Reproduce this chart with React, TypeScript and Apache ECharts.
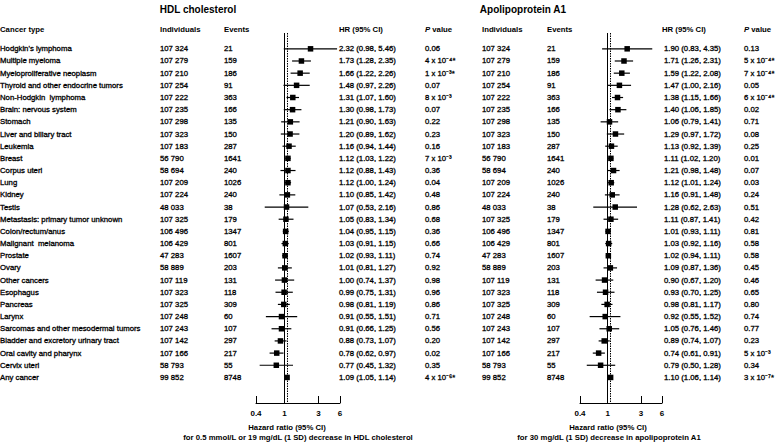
import React, { useEffect, useRef } from "react";
import * as echarts from "echarts";

const cancers = [
  "Hodgkin's lymphoma", "Multiple myeloma", "Myeloproliferative neoplasm", "Thyroid and other endocrine tumors",
  "Non-Hodgkin  lymphoma", "Brain: nervous system", "Stomach", "Liver and biliary tract", "Leukemia", "Breast",
  "Corpus uteri", "Lung", "Kidney", "Testis", "Metastasis: primary tumor unknown", "Colon/rectum/anus",
  "Malignant  melanoma", "Prostate", "Ovary", "Other cancers", "Esophagus", "Pancreas", "Larynx",
  "Sarcomas and other mesodermal tumors", "Bladder and excretory urinary tract", "Oral cavity and pharynx",
  "Cervix uteri", "Any cancer",
];

const hdlIndividuals = [107324, 107279, 107210, 107254, 107222, 107235, 107298, 107323, 107183, 56790, 58694, 107209, 107224, 48033, 107325, 106496, 106429, 47283, 58889, 107119, 107323, 107325, 107248, 107243, 107142, 107166, 58793, 99852];
const hdlEvents = [21, 159, 186, 91, 363, 166, 135, 150, 287, 1641, 240, 1026, 240, 38, 179, 1347, 801, 1607, 203, 131, 118, 309, 60, 107, 297, 217, 55, 8748];
const hdlHR = [2.32, 1.73, 1.66, 1.48, 1.31, 1.30, 1.21, 1.20, 1.16, 1.12, 1.12, 1.12, 1.10, 1.07, 1.05, 1.04, 1.03, 1.02, 1.01, 1.00, 0.99, 0.98, 0.91, 0.91, 0.88, 0.78, 0.77, 1.09];
const hdlLow = [0.98, 1.28, 1.22, 0.97, 1.07, 0.98, 0.90, 0.89, 0.94, 1.03, 0.88, 1.00, 0.85, 0.53, 0.83, 0.95, 0.91, 0.93, 0.81, 0.74, 0.75, 0.81, 0.55, 0.66, 0.73, 0.62, 0.45, 1.05];
const hdlHigh = [5.46, 2.35, 2.26, 2.26, 1.60, 1.73, 1.63, 1.62, 1.44, 1.22, 1.43, 1.24, 1.42, 2.16, 1.34, 1.15, 1.15, 1.11, 1.27, 1.37, 1.31, 1.19, 1.51, 1.25, 1.07, 0.97, 1.32, 1.14];
const hdlP = ["0.06", "4 x 10⁻⁴*", "1 x 10⁻³*", "0.07", "8 x 10⁻³", "0.07", "0.22", "0.23", "0.16", "7 x 10⁻³", "0.36", "0.04", "0.48", "0.86", "0.68", "0.36", "0.66", "0.74", "0.92", "0.98", "0.96", "0.86", "0.71", "0.56", "0.20", "0.02", "0.35", "4 x 10⁻⁶*"];

const apoIndividuals = [107324, 107279, 107210, 107254, 107222, 107235, 107298, 107323, 107183, 56790, 58694, 107209, 107224, 48033, 107325, 106496, 106429, 47283, 58889, 107119, 107323, 107325, 107248, 107243, 107142, 107166, 58793, 99852];
const apoEvents = [21, 159, 186, 91, 363, 166, 135, 150, 287, 1641, 240, 1026, 240, 38, 179, 1347, 801, 1607, 203, 131, 118, 309, 60, 107, 297, 217, 55, 8748];
const apoHR = [1.90, 1.71, 1.59, 1.47, 1.38, 1.40, 1.06, 1.29, 1.13, 1.11, 1.21, 1.12, 1.16, 1.28, 1.11, 1.01, 1.03, 1.02, 1.09, 0.90, 0.93, 0.98, 0.92, 1.05, 0.89, 0.74, 0.79, 1.10];
const apoLow = [0.83, 1.26, 1.22, 1.00, 1.15, 1.06, 0.79, 0.97, 0.92, 1.02, 0.98, 1.01, 0.91, 0.62, 0.87, 0.93, 0.92, 0.94, 0.87, 0.67, 0.70, 0.81, 0.55, 0.76, 0.74, 0.61, 0.50, 1.06];
const apoHigh = [4.35, 2.31, 2.08, 2.16, 1.66, 1.85, 1.41, 1.72, 1.39, 1.20, 1.48, 1.24, 1.48, 2.63, 1.41, 1.11, 1.16, 1.11, 1.36, 1.20, 1.25, 1.17, 1.52, 1.46, 1.07, 0.91, 1.28, 1.14];
const apoP = ["0.13", "5 x 10⁻⁴*", "7 x 10⁻⁴*", "0.05", "6 x 10⁻⁴*", "0.02", "0.71", "0.08", "0.25", "0.01", "0.07", "0.03", "0.24", "0.51", "0.42", "0.81", "0.58", "0.58", "0.45", "0.46", "0.65", "0.80", "0.74", "0.77", "0.23", "5 x 10⁻³", "0.34", "3 x 10⁻⁷*"];

const tickValues = [0.4, 1, 3, 6];
const hdlOverall = 1.09;
const apoOverall = 1.10;

const FONT = '"Liberation Sans", Arial, Helvetica, sans-serif';
const FS = 7.75;

const fmtN = (n: number) => String(n).replace(/\B(?=(\d{3})+(?!\d))/g, " ");
const fmtHR = (h: number, l: number, u: number) => `${h.toFixed(2)} (${l.toFixed(2)}, ${u.toFixed(2)})`;

function txt(text: string, x: number, y: number, opts: any = {}) {
  const bold = opts.fontWeight === "bold";
  return {
    type: "text",
    style: {
      text, x, y,
      fill: "#000",
      fontFamily: FONT,
      fontSize: opts.fontSize || FS,
      fontWeight: opts.fontWeight || "normal",
      fontStyle: opts.fontStyle || "normal",
      align: opts.align || "left",
      verticalAlign: "middle",
      stroke: bold ? undefined : "#000",
      lineWidth: bold ? 0 : 0.3,
    },
  };
}

export default function App() {
  const ref = useRef<HTMLDivElement>(null);
  useEffect(() => {
    const chart = echarts.init(ref.current!, null, { renderer: "svg" });

    const panels = [
      { hr: hdlHR, lo: hdlLow, hi: hdlHigh, p: hdlP, n: hdlIndividuals, ev: hdlEvents, overall: hdlOverall,
        cols: { name: 0, n: 160, ev: 224, hr: 339, p: 425 }, withName: true },
      { hr: apoHR, lo: apoLow, hi: apoHigh, p: apoP, n: apoIndividuals, ev: apoEvents, overall: apoOverall,
        cols: { name: -1, n: 482, ev: 547, hr: 664, p: 744 }, withName: false },
    ];

    const grids = [
      { left: 256, width: 84, top: 33, bottom: 41 },
      { left: 580, width: 82, top: 33, bottom: 41 },
    ];

    const xAxes = grids.map((_, i) => ({
      type: "log", logBase: 10, gridIndex: i, min: 0.4, max: 6, position: "bottom",
      axisLine: { show: true, onZero: false, lineStyle: { color: "#000", width: 1 } },
      axisTick: { show: true, inside: true, length: 7, customValues: tickValues, lineStyle: { color: "#000", width: 1 } },
      minorTick: { show: false },
      axisLabel: { show: true, customValues: tickValues, color: "#000", fontSize: 8, fontWeight: "bold", fontFamily: FONT, margin: 6,
        formatter: (v: number) => String(Math.round(v * 10) / 10) },
      splitLine: { show: false },
    }));
    const yAxes = grids.map((_, i) => ({
      type: "value", gridIndex: i, inverse: true, min: -1.3, max: 29.1, show: false,
    }));

    const series: any[] = [];
    panels.forEach((pn, gi) => {
      series.push({
        type: "line", xAxisIndex: gi, yAxisIndex: gi, data: [], silent: true,
        markLine: {
          symbol: "none", silent: true, label: { show: false },
          data: [
            { xAxis: 1, lineStyle: { color: "#000", width: 1, type: "solid" } },
            { xAxis: pn.overall, lineStyle: { color: "#000", width: 1, type: [1.5, 1] } },
          ],
        },
      });
      series.push({
        type: "custom", xAxisIndex: gi, yAxisIndex: gi, clip: false,
        data: pn.hr.map((h, i) => [h, i, pn.lo[i], pn.hi[i]]),
        encode: { x: [0, 2, 3], y: 1 },
        renderItem: (params: any, api: any) => {
          const c = api.coord([api.value(0), api.value(1)]);
          const l = api.coord([api.value(2), api.value(1)]);
          const u = api.coord([api.value(3), api.value(1)]);
          const s = 5.5;
          return {
            type: "group",
            children: [
              { type: "line", shape: { x1: l[0], y1: l[1], x2: u[0], y2: u[1] }, style: { stroke: "#000", lineWidth: 1.2 } },
              { type: "rect", shape: { x: c[0] - s / 2, y: c[1] - s / 2, width: s, height: s }, style: { fill: "#000" } },
            ],
          };
        },
      });
      series.push({
        type: "custom", xAxisIndex: gi, yAxisIndex: gi, clip: false, silent: true,
        data: pn.hr.map((_, i) => [1, i]),
        encode: { x: 0, y: 1 },
        renderItem: (params: any, api: any) => {
          const i = api.value(1);
          const y = api.coord([1, i])[1];
          const ch: any[] = [];
          if (pn.withName) ch.push(txt(cancers[i], pn.cols.name, y));
          ch.push(txt(fmtN(pn.n[i]), pn.cols.n, y));
          ch.push(txt(String(pn.ev[i]), pn.cols.ev, y));
          ch.push(txt(fmtHR(pn.hr[i], pn.lo[i], pn.hi[i]), pn.cols.hr, y));
          ch.push(txt(pn.p[i], pn.cols.p, y));
          return { type: "group", children: ch };
        },
      });
    });

    const hb = { fontWeight: "bold" };
    const pHead = (x: number) => ({
      type: "text",
      style: {
        x, y: 29, verticalAlign: "middle", fill: "#000", fontFamily: FONT, fontSize: FS, fontWeight: "bold",
        text: "{i|P} value",
        rich: { i: { fontStyle: "italic", fontWeight: "bold", fontFamily: FONT, fontSize: FS, fill: "#000" } },
      },
    });
    const graphic: any[] = [
      txt("HDL cholesterol", 198, 9, { fontSize: 10, fontWeight: "bold", align: "center" }),
      txt("Apolipoprotein A1", 523, 9, { fontSize: 10, fontWeight: "bold", align: "center" }),
      txt("Cancer type", 0, 29, hb),
      txt("Individuals", 160, 29, hb),
      txt("Events", 224, 29, hb),
      txt("HR (95% CI)", 339, 29, hb),
      pHead(425),
      txt("Individuals", 482, 29, hb),
      txt("Events", 547, 29, hb),
      txt("HR (95% CI)", 662, 29, hb),
      pHead(744),
      txt("Hazard ratio (95% CI)", 287, 427, { fontWeight: "bold", align: "center" }),
      txt("for 0.5 mmol/L or 19 mg/dL (1 SD) decrease in HDL cholesterol", 298, 437, { fontWeight: "bold", align: "center" }),
      txt("Hazard ratio (95% CI)", 608, 427, { fontWeight: "bold", align: "center" }),
      txt("for 30 mg/dL (1 SD) decrease in apolipoprotein A1", 609, 437, { fontWeight: "bold", align: "center" }),
    ];

    chart.setOption({
      animation: false,
      backgroundColor: "#fff",
      grid: grids,
      xAxis: xAxes,
      yAxis: yAxes,
      series,
      graphic,
    });
    return () => chart.dispose();
  }, []);
  return <div ref={ref} style={{ position: "fixed", left: 0, top: 0, width: 778, height: 444 }} />;
}
